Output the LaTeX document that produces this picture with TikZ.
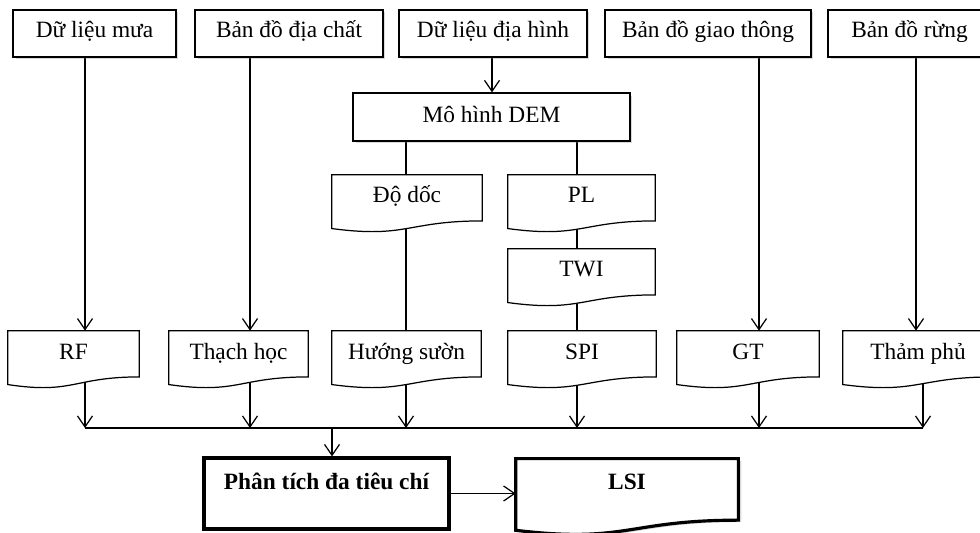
\documentclass[tikz,border=0pt]{standalone}
\usepackage{fontspec}
\setmainfont{Liberation Serif}
\usetikzlibrary{calc,shadows,arrows.meta}
\pgfdeclarelayer{back}
\pgfsetlayers{back,main}
\tikzset{
  box/.style={draw,fill=white,line width=0.7pt,inner xsep=0pt,inner ysep=0pt,
    text height=0.56cm,text depth=0.38cm,
    drop shadow={opacity=0.3,shadow xshift=0.05cm,shadow yshift=-0.05cm}},
  docnode/.style={inner xsep=0pt,inner ysep=0pt,text height=0.56cm,text depth=0.58cm},
  docline/.style={draw,fill=white,line width=0.7pt},
  link/.style={line width=0.7pt},
  arr/.style={line width=0.7pt,-{Straight Barb[length=0.22cm,width=0.3cm]}},
}
\begin{document}
\begin{tikzpicture}[x=0.02cm,y=-0.02cm,font=\fontsize{13.3pt}{15pt}\selectfont]
			\useasboundingbox (0,0) rectangle (980,533);
			% input data
			\node[box,minimum width=3.26cm] (mua) at (94.5,33.5) {Dữ liệu mưa};
			\node[box,minimum width=3.76cm] (diachat) at (289,33.5) {Bản đồ địa chất};
			\node[box,minimum width=3.76cm] (diahinh) at (493,33.5) {Dữ liệu địa hình};
			\node[box,minimum width=4.12cm] (giaothong) at (708,33.5) {Bản đồ giao thông};
			\node[box,minimum width=3.26cm] (rung) at (909.5,33.5) {Bản đồ rừng};
			\node[box,minimum width=5.54cm,text height=0.6cm,text depth=0.36cm] (dem) at (491.5,117) {Mô hình DEM};
			% layers
			\node[docnode,minimum width=3cm] (dodoc) at (407,203.5) {Độ dốc};
			\node[docnode,minimum width=2.94cm] (pl) at (581.5,203.5) {PL};
			\node[docnode,minimum width=2.94cm] (twi) at (581.5,277.5) {TWI};
			\node[docnode,minimum width=2.62cm] (rf) at (73.5,359.5) {RF};
			\node[docnode,minimum width=2.78cm] (thachhoc) at (238.5,359.5) {Thạch học};
			\node[docnode,minimum width=2.98cm] (huong) at (406.5,359.5) {Hướng sườn};
			\node[docnode,minimum width=2.96cm] (spi) at (582,359.5) {SPI};
			\node[docnode,minimum width=2.84cm] (gt) at (748,359.5) {GT};
			\node[docnode,minimum width=3cm] (thamphu) at (918,359.5) {Thảm phủ};
			% result
			\node[draw,line width=1.8pt,inner xsep=0pt,inner ysep=0pt,text height=0.62cm,text depth=0.8cm,
				minimum width=4.9cm,font=\fontsize{13.3pt}{15pt}\selectfont\bfseries] (phantich) at (326.5,493.5) {Phân tích đa tiêu chí};
			\node[docnode,text height=0.6cm,text depth=0.92cm,minimum width=4.44cm,
				font=\fontsize{13.3pt}{15pt}\selectfont\bfseries] (lsi) at (627,497) {LSI};
			% lanes
			\coordinate (l1) at (85,0);
			\coordinate (l2) at (250,0);
			\coordinate (l3) at (492,0);
			\coordinate (l4) at (406,0);
			\coordinate (l5) at (577,0);
			\coordinate (l6) at (759,0);
			\coordinate (l7) at (916,0);
			\coordinate (l8) at (923,0);
			\coordinate (l9) at (332,0);
			\coordinate (bus) at (0,428);
			\begin{pgfonlayer}{back}
				\draw[arr] (mua.south -| l1) -- (rf.north -| l1);
				\draw[arr] (diachat.south -| l2) -- (thachhoc.north -| l2);
				\draw[arr] (diahinh.south -| l3) -- (dem.north -| l3);
				\draw[arr] (giaothong.south -| l6) -- (gt.north -| l6);
				\draw[arr] (rung.south -| l7) -- (thamphu.north -| l7);
				\draw[link] (dem.south -| l4) -- (dodoc.north -| l4);
				\draw[link] (dodoc.center -| l4) -- (huong.north -| l4);
				\draw[link] (dem.south -| l5) -- (pl.north -| l5);
				\draw[link] (pl.center -| l5) -- (twi.north -| l5);
				\draw[link] (twi.center -| l5) -- (spi.north -| l5);
				\draw[arr] (rf.center -| l1) -- (bus -| l1);
				\draw[arr] (thachhoc.center -| l2) -- (bus -| l2);
				\draw[arr] (huong.center -| l4) -- (bus -| l4);
				\draw[arr] (spi.center -| l5) -- (bus -| l5);
				\draw[arr] (gt.center -| l6) -- (bus -| l6);
				\draw[arr] (thamphu.center -| l8) -- (bus -| l8);
				\draw[link] (bus -| l1) -- (bus -| l8);
				\draw[arr] (bus -| l9) -- (phantich.north -| l9);
				\draw[arr] (phantich.east) -- (phantich.east -| lsi.west);
				\foreach \Nom in {dodoc,pl,twi,rf,thachhoc,huong,spi,gt,thamphu}
					\draw[docline] (\Nom.north west) -- (\Nom.north east)
						-- ($(\Nom.north east)!0.802!(\Nom.south east)$)
						.. controls ($(\Nom.north)!0.802!(\Nom.south)$) and ($(\Nom.north)!1.108!(\Nom.south)$)
						.. ($(\Nom.north west)!0.934!(\Nom.south west)$) -- cycle;
				\draw[docline,line width=1.8pt,drop shadow={opacity=0.3,shadow xshift=0.06cm,shadow yshift=-0.04cm}]
					(lsi.north west) -- (lsi.north east)
					-- ($(lsi.north east)!0.802!(lsi.south east)$)
					.. controls ($(lsi.north)!0.802!(lsi.south)$) and ($(lsi.north)!1.108!(lsi.south)$)
					.. ($(lsi.north west)!0.934!(lsi.south west)$) -- cycle;
			\end{pgfonlayer}
		\end{tikzpicture}
\end{document}
